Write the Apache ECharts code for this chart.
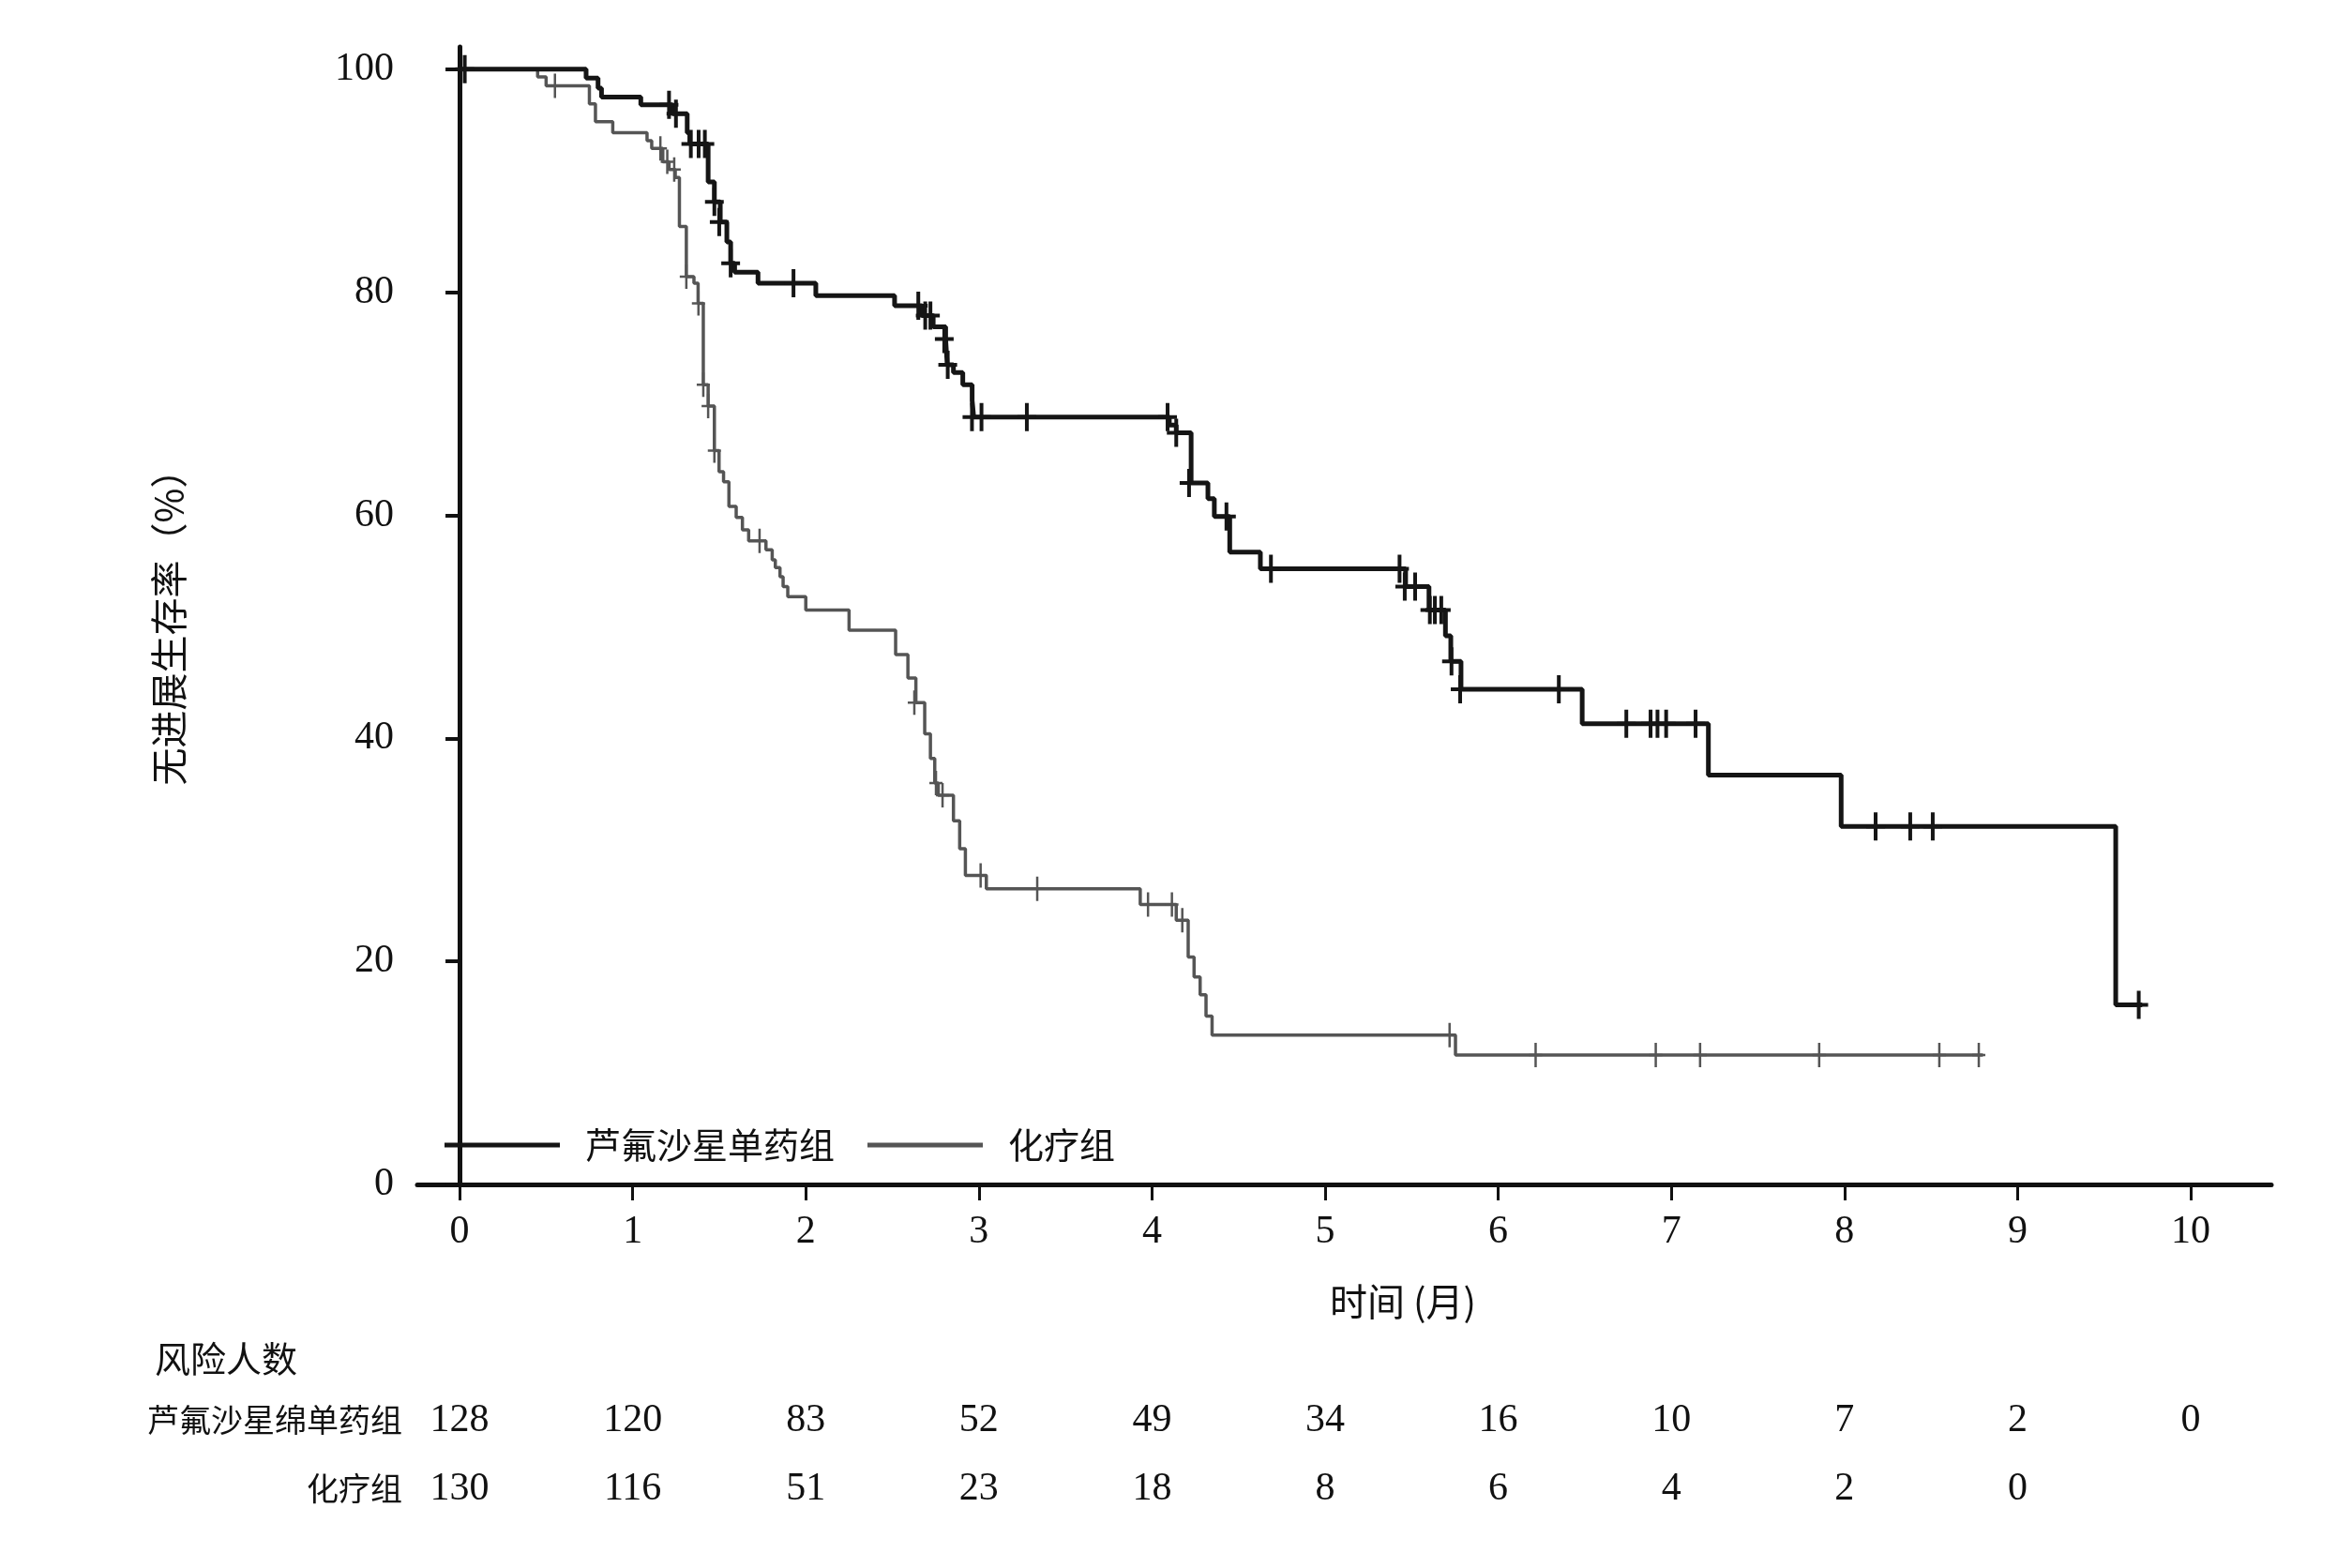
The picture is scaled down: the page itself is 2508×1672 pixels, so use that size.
<!DOCTYPE html>
<html>
<head>
<meta charset="utf-8">
<title>无进展生存率</title>
<script src="https://cdn.jsdelivr.net/npm/echarts@6/dist/echarts.min.js"></script>
<style>
html, body { margin: 0; padding: 0; background: #fff; }
#km { width: 2508px; height: 1672px; }
</style>
</head>
<body>
<div id="km"></div>
<script>
var monthTicks = [0, 1, 2, 3, 4, 5, 6, 7, 8, 9, 10];
var pctTicks = [0, 20, 40, 60, 80, 100];
var groupNames = ['芦氟沙星单药组', '化疗组'];
var riskRowNames = ['芦氟沙星绵单药组', '化疗组'];

// [月, 生存率%] 每一步之后的值
var levoSteps = [
    [0, 100], [0.731, 99.2], [0.80, 98.3], [0.82, 97.5], [1.047, 96.8],
    [1.23, 96.0], [1.315, 94.3], [1.33, 93.3], [1.436, 89.9], [1.472, 88.1],
    [1.506, 86.3], [1.544, 84.5], [1.566, 82.6], [1.589, 81.8], [1.724, 80.8],
    [2.058, 79.7], [2.513, 78.8], [2.672, 77.9], [2.736, 76.9], [2.808, 75.8],
    [2.817, 73.5], [2.853, 72.8], [2.907, 71.7], [2.961, 70.3], [2.970, 68.8],
    [4.10, 68.1], [4.14, 67.4], [4.226, 62.9], [4.323, 61.5], [4.36, 59.9],
    [4.449, 56.7], [4.626, 55.2], [5.465, 53.6], [5.60, 51.5], [5.695, 49.2],
    [5.726, 46.9], [5.785, 44.4], [6.485, 41.3], [7.214, 36.7], [7.981, 32.1],
    [9.567, 16.1], [9.72, 16.1]
];
var levoCensor = [
    [0.03, 100], [1.21, 96.8], [1.25, 96.0], [1.336, 93.3], [1.381, 93.3],
    [1.417, 93.3], [1.472, 88.1], [1.50, 86.3], [1.566, 82.6], [1.929, 80.8],
    [2.65, 78.8], [2.69, 77.9], [2.72, 77.9], [2.80, 75.8], [2.82, 73.5],
    [2.96, 68.8], [3.015, 68.8], [3.277, 68.8], [4.09, 68.8], [4.14, 67.4],
    [4.214, 62.9], [4.43, 59.9], [4.687, 55.2], [5.43, 55.2], [5.46, 53.6],
    [5.52, 53.6], [5.605, 51.5], [5.634, 51.5], [5.671, 51.5], [5.73, 46.9],
    [5.78, 44.4], [6.35, 44.4], [6.74, 41.3], [6.88, 41.3], [6.92, 41.3],
    [6.97, 41.3], [7.14, 41.3], [8.18, 32.1], [8.38, 32.1], [8.51, 32.1],
    [9.70, 16.1]
];

var chemoSteps = [
    [0, 100], [0.451, 99.3], [0.50, 98.5], [0.75, 96.9], [0.785, 95.3],
    [0.885, 94.3], [1.083, 93.6], [1.11, 92.9], [1.174, 91.7], [1.21, 91.0],
    [1.246, 90.3], [1.27, 85.9], [1.31, 81.4], [1.354, 80.8], [1.378, 79.0],
    [1.408, 71.7], [1.436, 69.8], [1.472, 65.8], [1.499, 63.9], [1.525, 63.0],
    [1.556, 60.8], [1.598, 59.8], [1.634, 58.7], [1.67, 57.7], [1.77, 56.9],
    [1.806, 56.0], [1.824, 55.3], [1.851, 54.5], [1.869, 53.6], [1.896, 52.7],
    [2.0, 51.5], [2.25, 49.7], [2.519, 47.5], [2.59, 45.4], [2.636, 43.2],
    [2.687, 40.4], [2.72, 38.2], [2.745, 36.0], [2.765, 34.9], [2.853, 32.6],
    [2.889, 30.1], [2.922, 27.7], [3.043, 26.5], [3.932, 25.1], [4.14, 23.7],
    [4.209, 20.4], [4.243, 18.6], [4.278, 17.0], [4.312, 15.1], [4.347, 13.4],
    [5.753, 11.6], [8.80, 11.6]
];
var chemoCensor = [
    [0.03, 100], [0.551, 98.5], [1.16, 92.9], [1.20, 91.7], [1.24, 91.0],
    [1.31, 81.4], [1.38, 79.0], [1.408, 71.7], [1.436, 69.8], [1.472, 65.8],
    [1.733, 57.7], [2.627, 43.2], [2.752, 36.0], [2.79, 34.9], [3.01, 27.7],
    [3.337, 26.5], [3.977, 25.1], [4.115, 25.1], [4.175, 23.7], [5.719, 13.4],
    [6.216, 11.6], [6.91, 11.6], [7.166, 11.6], [7.854, 11.6], [8.548, 11.6],
    [8.776, 11.6]
];

// 风险人数
var levoAtRisk = [128, 120, 83, 52, 49, 34, 16, 10, 7, 2, 0];
var chemoAtRisk = [130, 116, 51, 23, 18, 8, 6, 4, 2, 0];

var numFont = 'Liberation Serif';
var cjkFont = 'Noto Sans CJK SC';
var blackCol = '#151515';
var grayCol = '#555555';

var riskData = [];
levoAtRisk.forEach(function (n, i) { riskData.push([monthTicks[i], 0, n]); });
chemoAtRisk.forEach(function (n, i) { riskData.push([monthTicks[i], 1, n]); });

var chart = echarts.init(document.getElementById('km'));

var option = {
    backgroundColor: '#ffffff',
    animation: false,
    grid: [
        { left: 445, right: 86, top: 50, bottom: 409 },
        { left: 445, right: 86, top: 1478, bottom: 48 }
    ],
    xAxis: [
        {
            gridIndex: 0,
            type: 'value',
            min: -0.244,
            max: 10.466,
            axisLine: { show: true, lineStyle: { color: '#111', width: 5 } },
            axisTick: { show: true, customValues: monthTicks, length: 17, lineStyle: { color: '#111', width: 3 } },
            axisLabel: { customValues: monthTicks, margin: 30, fontFamily: numFont, fontSize: 42, color: '#111' },
            splitLine: { show: false }
        },
        {
            gridIndex: 1,
            type: 'value',
            min: -0.244,
            max: 10.466,
            show: false
        }
    ],
    yAxis: [
        {
            gridIndex: 0,
            type: 'value',
            min: 0,
            max: 102,
            axisLine: { show: true, lineStyle: { color: '#111', width: 5 } },
            axisTick: { show: true, customValues: pctTicks, length: 15, lineStyle: { color: '#111', width: 4 } },
            axisLabel: { customValues: pctTicks, margin: 25, fontFamily: numFont, fontSize: 42, color: '#111' },
            splitLine: { show: false }
        },
        {
            gridIndex: 1,
            type: 'category',
            inverse: true,
            data: riskRowNames,
            axisLine: { show: false },
            axisTick: { show: false },
            axisLabel: { margin: 16, fontFamily: cjkFont, fontSize: 34, color: '#111' }
        }
    ],
    legend: {
        data: [
            { name: groupNames[0], icon: 'rect', itemStyle: { color: blackCol } },
            { name: groupNames[1], icon: 'rect', itemStyle: { color: grayCol } }
        ],
        left: 474,
        top: 1201,
        padding: 0,
        itemWidth: 123,
        itemHeight: 5,
        itemGap: 35,
        selectedMode: false,
        textStyle: { fontFamily: cjkFont, fontSize: 38, color: '#111', lineHeight: 40, padding: [0, 0, 0, 22] }
    },
    graphic: [
        {
            type: 'text', x: 180, y: 659, rotation: Math.PI / 2,
            style: { text: '无进展生存率（%）', font: '40px "Noto Sans CJK SC"', fill: '#111', align: 'center', verticalAlign: 'middle' }
        },
        {
            type: 'text', x: 1496, y: 1388,
            style: { text: '时间 (月)', font: '40px "Noto Sans CJK SC"', fill: '#111', align: 'center', verticalAlign: 'middle' }
        },
        {
            type: 'text', x: 165, y: 1449,
            style: { text: '风险人数', font: '38px "Noto Sans CJK SC"', fill: '#111', align: 'left', verticalAlign: 'middle' }
        }
    ],
    series: [
        {
            name: groupNames[1],
            type: 'line',
            xAxisIndex: 0, yAxisIndex: 0,
            step: 'end',
            symbol: 'none',
            data: chemoSteps,
            lineStyle: { color: grayCol, width: 3.5 },
            itemStyle: { color: grayCol },
            z: 2
        },
        {
            name: '化疗组删失',
            type: 'scatter',
            xAxisIndex: 0, yAxisIndex: 0,
            symbol: 'path://M5.75,0h2.5v11.75h5.75v2.5h-5.75v11.75h-2.5v-11.75h-5.75v-2.5h5.75z',
            symbolSize: [14, 26],
            data: chemoCensor,
            itemStyle: { color: grayCol, opacity: 1 },
            z: 3
        },
        {
            name: groupNames[0],
            type: 'line',
            xAxisIndex: 0, yAxisIndex: 0,
            step: 'end',
            symbol: 'none',
            data: levoSteps,
            lineStyle: { color: blackCol, width: 5 },
            itemStyle: { color: blackCol },
            z: 4
        },
        {
            name: '芦氟沙星单药组删失',
            type: 'scatter',
            xAxisIndex: 0, yAxisIndex: 0,
            symbol: 'path://M8,0h4v13h8v4h-8v13h-4v-13h-8v-4h8z',
            symbolSize: [20, 30],
            data: levoCensor,
            itemStyle: { color: blackCol, opacity: 1 },
            z: 5
        },
        {
            name: '风险人数',
            type: 'scatter',
            xAxisIndex: 1, yAxisIndex: 1,
            symbolSize: 1,
            itemStyle: { color: 'rgba(255,255,255,0)', opacity: 1 },
            data: riskData,
            label: {
                show: true,
                position: 'inside',
                formatter: function (p) { return p.value[2]; },
                fontFamily: numFont,
                fontSize: 42,
                color: '#111111',
                textBorderWidth: 0
            }
        }
    ]
};

chart.setOption(option);
</script>
</body>
</html>
